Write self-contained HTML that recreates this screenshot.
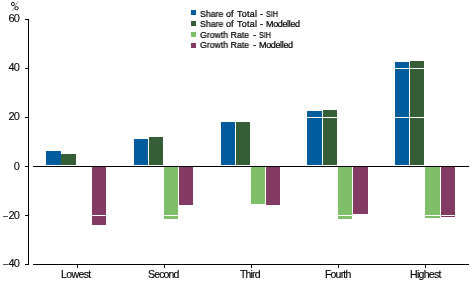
<!DOCTYPE html>
<html><head><meta charset="utf-8">
<style>
html,body{margin:0;padding:0;background:#fff;}
body{width:472px;height:283px;overflow:hidden;position:relative;-webkit-font-smoothing:antialiased;font-family:"Liberation Sans",sans-serif;color:#000;}
.a{position:absolute;}
.k{position:absolute;background:#000;}
.g{position:absolute;background:#fff;height:1px;left:33px;width:436px;}
.b1{position:absolute;background:#005C9D;}
.b2{position:absolute;background:#365E36;}
.b3{position:absolute;background:#80BF6A;}
.b4{position:absolute;background:#833B64;}
.yl{position:absolute;will-change:transform;-webkit-text-stroke:0.1px #000;font-size:11px;line-height:10px;text-align:right;width:30px;left:-11px;white-space:nowrap;letter-spacing:-0.9px;}
.dash{position:absolute;left:3px;width:5px;height:1px;background:#555;}
.xl{position:absolute;will-change:transform;-webkit-text-stroke:0.15px #000;font-size:10.5px;line-height:10px;white-space:nowrap;letter-spacing:-0.65px;}
.lg{position:absolute;will-change:transform;-webkit-text-stroke:0.22px #000;font-size:9px;line-height:9px;white-space:nowrap;left:200px;}
.sq{position:absolute;left:191px;width:5px;height:5px;}
</style></head><body>
<!-- bars -->
<div class="b1" style="left:46px;top:151px;width:15px;height:14px"></div>
<div class="b2" style="left:61px;top:154px;width:15px;height:11px"></div>
<div class="b4" style="left:92px;top:167px;width:14px;height:58px"></div>

<div class="b1" style="left:134px;top:139px;width:14px;height:26px"></div>
<div class="b2" style="left:149px;top:137px;width:14px;height:28px"></div>
<div class="b3" style="left:164px;top:167px;width:14px;height:52px"></div>
<div class="b4" style="left:179px;top:167px;width:14px;height:38px"></div>

<div class="b1" style="left:221px;top:122px;width:14px;height:43px"></div>
<div class="b2" style="left:236px;top:122px;width:14px;height:43px"></div>
<div class="b3" style="left:251px;top:167px;width:14px;height:37px"></div>
<div class="b4" style="left:266px;top:167px;width:14px;height:38px"></div>

<div class="b1" style="left:307px;top:111px;width:15px;height:54px"></div>
<div class="b2" style="left:323px;top:110px;width:14px;height:55px"></div>
<div class="b3" style="left:338px;top:167px;width:14px;height:52px"></div>
<div class="b4" style="left:353px;top:167px;width:15px;height:47px"></div>

<div class="b1" style="left:395px;top:62px;width:14px;height:103px"></div>
<div class="b2" style="left:410px;top:61px;width:14px;height:104px"></div>
<div class="b3" style="left:425px;top:167px;width:15px;height:51px"></div>
<div class="b4" style="left:441px;top:167px;width:14px;height:50px"></div>

<!-- white gridlines -->
<div class="g" style="top:68px"></div>
<div class="g" style="top:117px"></div>
<div class="g" style="top:215px"></div>

<!-- axes -->
<div class="k" style="left:28px;top:19px;width:1px;height:246px"></div>
<div class="k" style="left:25px;top:19px;width:3px;height:1px"></div>
<div class="k" style="left:25px;top:68px;width:3px;height:1px"></div>
<div class="k" style="left:25px;top:117px;width:3px;height:1px"></div>
<div class="k" style="left:25px;top:166px;width:3px;height:1px"></div>
<div class="k" style="left:25px;top:215px;width:3px;height:1px"></div>
<div class="k" style="left:25px;top:264px;width:3px;height:1px"></div>
<div class="k" style="left:33px;top:166px;width:436px;height:1px"></div>
<div class="k" style="left:33px;top:264px;width:436px;height:1px"></div>
<div class="k" style="left:77px;top:265px;width:1px;height:3px"></div>
<div class="k" style="left:164px;top:265px;width:1px;height:3px"></div>
<div class="k" style="left:251px;top:265px;width:1px;height:3px"></div>
<div class="k" style="left:338px;top:265px;width:1px;height:3px"></div>
<div class="k" style="left:425px;top:265px;width:1px;height:3px"></div>

<!-- y labels -->
<svg class="a" style="left:0;top:0" width="24" height="12" viewBox="0 0 24 12"><ellipse cx="12.9" cy="4" rx="1.5" ry="1.75" fill="none" stroke="#000" stroke-width="0.9"/><ellipse cx="16.5" cy="8.2" rx="1.7" ry="1.6" fill="none" stroke="#000" stroke-width="0.9"/><line x1="17.6" y1="1.8" x2="12.4" y2="10.9" stroke="#777" stroke-width="0.8"/></svg>
<div class="yl" style="top:13px">60</div>
<div class="yl" style="top:62px">40</div>
<div class="yl" style="top:111px">20</div>
<div class="yl" style="top:161px">0</div>
<div class="yl" style="top:210px">20</div><div class="dash" style="top:216px"></div>
<div class="yl" style="top:258px">40</div><div class="dash" style="top:264px"></div>

<!-- x labels -->
<div class="xl" style="left:61px;top:269px;letter-spacing:-0.6px">Lowest</div>
<div class="xl" style="left:147.75px;top:269px;letter-spacing:-0.83px">Second</div>
<div class="xl" style="left:240px;top:269px;letter-spacing:-0.85px">Third</div>
<div class="xl" style="left:325px;top:269px;letter-spacing:-0.82px">Fourth</div>
<div class="xl" style="left:409.6px;top:269px;letter-spacing:-0.68px">Highest</div>

<!-- legend -->
<div class="sq" style="top:10px;background:#005C9D"></div>
<div class="sq" style="top:21px;background:#365E36"></div>
<div class="sq" style="top:32px;background:#80BF6A"></div>
<div class="sq" style="top:43px;background:#833B64"></div>
<div class="lg" style="top:10px;transform:scaleX(0.97);transform-origin:0 0">Share</div><div class="lg" style="top:10px;left:225.7px">of</div><div class="lg" style="top:10px;left:236.5px;letter-spacing:0.25px">Total</div>
<div class="lg" style="top:10px;left:260px">-</div>
<div class="lg" style="top:10px;left:265.5px;transform:scaleX(0.8);transform-origin:0 0">SIH</div>
<div class="lg" style="top:20.3px;transform:scaleX(0.97);transform-origin:0 0">Share</div><div class="lg" style="top:20.3px;left:225.7px">of</div><div class="lg" style="top:20.3px;left:236.5px;letter-spacing:0.25px">Total</div>
<div class="lg" style="top:20.3px;left:260px">-</div>
<div class="lg" style="top:20.3px;left:266px;letter-spacing:-0.35px">Modelled</div>
<div class="lg" style="top:30.7px;transform:scaleX(0.97);transform-origin:0 0">Growth Rate</div>
<div class="lg" style="top:30.7px;left:252.7px">-</div>
<div class="lg" style="top:30.7px;left:258.5px;transform:scaleX(0.8);transform-origin:0 0">SIH</div>
<div class="lg" style="top:41.2px;transform:scaleX(0.97);transform-origin:0 0">Growth Rate</div>
<div class="lg" style="top:41.2px;left:252.7px">-</div>
<div class="lg" style="top:41.2px;left:259px;letter-spacing:-0.35px">Modelled</div>
</body></html>
